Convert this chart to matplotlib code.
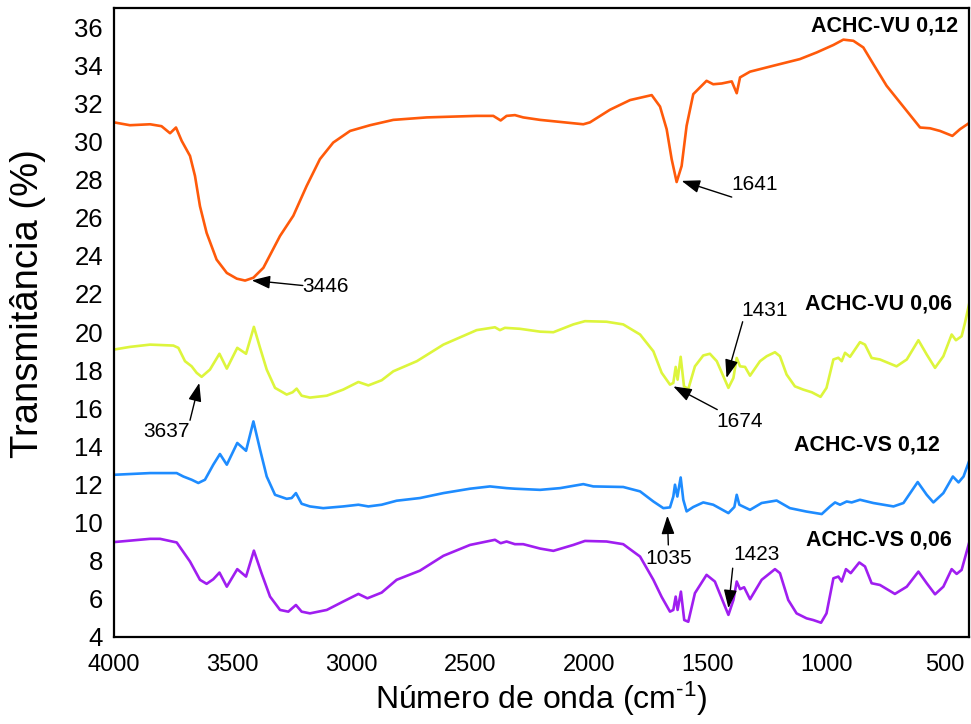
import matplotlib
matplotlib.use("Agg")
import matplotlib.pyplot as plt
from matplotlib import font_manager

# ---------------- data ----------------
ACHC_VU_012 = [(4000, 31.0), (3933, 30.85), (3848, 30.9), (3800, 30.8), (3764, 30.43), (3739, 30.73),
               (3715, 30.03), (3680, 29.24), (3659, 28.19), (3638, 26.6), (3610, 25.2), (3568, 23.8),
               (3525, 23.1), (3483, 22.8), (3448, 22.7), (3413, 22.85), (3371, 23.37), (3301, 25.04),
               (3245, 26.1), (3189, 27.66), (3133, 29.07), (3077, 29.94), (3006, 30.55), (2922, 30.85),
               (2824, 31.13), (2683, 31.26), (2473, 31.34), (2403, 31.34), (2372, 31.1), (2347, 31.34),
               (2312, 31.38), (2277, 31.26), (2206, 31.13), (2024, 30.9), (1996, 31.0), (1912, 31.66),
               (1827, 32.17), (1736, 32.43), (1701, 31.83), (1673, 30.64), (1652, 29.07), (1631, 27.87),
               (1610, 28.71), (1589, 30.82), (1561, 32.48), (1505, 33.18), (1477, 33.0), (1441, 33.04),
               (1399, 33.15), (1378, 32.53), (1364, 33.36), (1322, 33.66), (1224, 33.97), (1112, 34.32),
               (1041, 34.67), (971, 35.06), (929, 35.34), (887, 35.28), (845, 34.93), (803, 34.06),
               (747, 32.92), (662, 31.6), (606, 30.73), (564, 30.69), (522, 30.55), (470, 30.29),
               (438, 30.64), (400, 30.96)]

ACHC_VU_006 = [(4000, 19.08), (3933, 19.22), (3848, 19.34), (3750, 19.29), (3729, 19.17), (3701, 18.47),
               (3673, 18.2), (3652, 17.86), (3631, 17.65), (3596, 18.03), (3556, 18.86), (3525, 18.08),
               (3481, 19.17), (3444, 18.86), (3411, 20.27), (3385, 19.17), (3357, 18.03), (3322, 17.07),
               (3273, 16.72), (3248, 16.84), (3231, 17.03), (3210, 16.66), (3175, 16.56), (3104, 16.66),
               (3035, 16.98), (2971, 17.38), (2929, 17.2), (2873, 17.47), (2824, 17.94), (2725, 18.47),
               (2613, 19.34), (2473, 20.1), (2396, 20.25), (2375, 20.1), (2354, 20.22), (2291, 20.17),
               (2206, 20.02), (2150, 19.99), (2066, 20.4), (2017, 20.57), (1926, 20.54), (1856, 20.4),
               (1785, 19.87), (1729, 18.99), (1694, 17.86), (1659, 17.24), (1645, 17.33), (1635, 18.17),
               (1627, 17.5), (1614, 18.7), (1600, 17.15), (1582, 17.01), (1554, 18.2), (1519, 18.77),
               (1491, 18.86), (1462, 18.47), (1413, 17.07), (1392, 17.59), (1378, 18.64), (1364, 18.2),
               (1343, 18.17), (1322, 17.71), (1280, 18.47), (1252, 18.73), (1217, 18.94), (1196, 18.73),
               (1168, 17.77), (1133, 17.15), (1098, 16.98), (1062, 16.84), (1025, 16.6), (1000, 17.07),
               (971, 18.56), (950, 18.65), (936, 18.47), (922, 18.91), (901, 18.7), (859, 19.47),
               (838, 19.34), (810, 18.64), (775, 18.56), (705, 18.2), (662, 18.56), (613, 19.57),
               (578, 18.82), (543, 18.12), (508, 18.73), (473, 19.87), (455, 19.57), (431, 19.78),
               (417, 20.48), (400, 21.45)]

ACHC_VS_012 = [(4000, 12.51), (3848, 12.6), (3736, 12.6), (3708, 12.42), (3673, 12.25), (3645, 12.08),
               (3617, 12.25), (3582, 13.04), (3554, 13.6), (3525, 13.04), (3481, 14.18), (3444, 13.77),
               (3413, 15.31), (3385, 13.83), (3357, 12.42), (3322, 11.46), (3273, 11.25), (3252, 11.29),
               (3234, 11.55), (3210, 10.99), (3175, 10.85), (3119, 10.76), (3035, 10.85), (2971, 10.94),
               (2929, 10.85), (2873, 10.94), (2810, 11.15), (2712, 11.29), (2613, 11.55), (2501, 11.78),
               (2417, 11.9), (2347, 11.81), (2312, 11.78), (2206, 11.72), (2122, 11.81), (2024, 12.02),
               (1982, 11.9), (1856, 11.87), (1785, 11.64), (1729, 11.11), (1687, 10.76), (1659, 10.8),
               (1645, 11.37), (1638, 11.99), (1628, 11.37), (1614, 12.37), (1603, 11.2), (1589, 10.59),
               (1561, 10.82), (1519, 11.06), (1477, 10.94), (1413, 10.5), (1388, 10.82), (1378, 11.46),
               (1367, 10.94), (1322, 10.67), (1273, 11.03), (1210, 11.16), (1154, 10.76), (1084, 10.58),
               (1020, 10.45), (985, 10.85), (964, 11.06), (943, 10.94), (915, 11.11), (894, 11.06),
               (859, 11.2), (803, 11.03), (718, 10.85), (676, 11.03), (616, 12.13), (578, 11.46),
               (550, 11.06), (508, 11.55), (468, 12.42), (444, 12.11), (423, 12.42), (400, 13.21)]

ACHC_VS_006 = [(4000, 8.98), (3848, 9.15), (3806, 9.15), (3736, 8.96), (3680, 7.96), (3638, 7.0),
               (3610, 6.79), (3582, 7.03), (3556, 7.38), (3525, 6.64), (3481, 7.56), (3444, 7.17),
               (3411, 8.53), (3379, 7.35), (3343, 6.12), (3301, 5.42), (3266, 5.33), (3234, 5.68),
               (3210, 5.33), (3175, 5.24), (3104, 5.42), (3035, 5.86), (2971, 6.26), (2933, 6.03),
               (2873, 6.33), (2810, 7.0), (2712, 7.48), (2613, 8.26), (2501, 8.83), (2396, 9.1),
               (2372, 8.92), (2347, 9.01), (2312, 8.87), (2277, 8.87), (2206, 8.64), (2150, 8.52),
               (2066, 8.83), (2017, 9.04), (1926, 9.01), (1856, 8.87), (1785, 8.22), (1729, 7.0),
               (1694, 6.1), (1659, 5.33), (1645, 5.42), (1635, 6.12), (1627, 5.42), (1613, 6.38),
               (1599, 4.89), (1582, 4.8), (1554, 6.3), (1505, 7.26), (1470, 6.91), (1413, 5.16),
               (1392, 5.94), (1378, 6.91), (1364, 6.51), (1347, 6.61), (1322, 5.98), (1273, 7.0),
               (1217, 7.56), (1196, 7.35), (1161, 5.94), (1126, 5.24), (1084, 4.98), (1056, 4.89),
               (1023, 4.75), (1000, 5.24), (971, 7.08), (950, 7.17), (936, 6.91), (918, 7.56),
               (898, 7.35), (862, 7.91), (838, 7.7), (810, 6.82), (775, 6.73), (712, 6.26),
               (662, 6.64), (613, 7.43), (578, 6.82), (543, 6.24), (508, 6.64), (473, 7.56),
               (452, 7.31), (431, 7.52), (400, 8.92)]

series_names = ["ACHC-VU 0,12", "ACHC-VU 0,06", "ACHC-VS 0,12", "ACHC-VS 0,06"]
series_data = [ACHC_VU_012, ACHC_VU_006, ACHC_VS_012, ACHC_VS_006]
series_colors = ["#FF5A0A", "#DDF53C", "#1E8CFF", "#A01EF0"]
# label anchor (right edge) for each series name
label_pos = [(446, 36.05), (472, 21.45), (522, 14.09), (472, 9.1)]

# peak annotations: text, text centre, arrow tail, arrow tip
peak_labels = ["3446", "1641", "3637", "1674", "1431", "1035", "1423"]
peak_text_xy = [(3109, 22.4), (1301, 27.72), (3778, 14.79), (1364, 15.28), (1259, 21.15), (1663, 8.13), (1295, 8.31)]
peak_tail_xy = [(3205, 22.44), (1399, 27.08), (3680, 15.37), (1460, 15.93), (1353, 20.54), (1666, 8.83), (1395, 7.61)]
peak_tip_xy = [(3420, 22.71), (1610, 27.93), (3641, 17.33), (1645, 17.15), (1421, 17.59), (1670, 10.36), (1413, 5.51)]

x_ticks = [4000, 3500, 3000, 2500, 2000, 1500, 1000, 500]
y_ticks = list(range(4, 37, 2))

# ---------------- fonts ----------------
available = {f.name for f in font_manager.fontManager.ttflist}
narrow = "Liberation Sans Narrow" if "Liberation Sans Narrow" in available else "Liberation Sans"
base = "Liberation Sans"
plt.rcParams["mathtext.fontset"] = "custom"
plt.rcParams["mathtext.rm"] = base
plt.rcParams["mathtext.it"] = base
plt.rcParams["mathtext.default"] = "regular"

fig = plt.figure(figsize=(9.71, 7.24), dpi=100)
ax = fig.add_axes([114 / 971, 1 - 637 / 724, (969 - 114) / 971, (637 - 8) / 724])

for data, col in zip(series_data, series_colors):
    xs = [p[0] for p in data]
    ys = [p[1] for p in data]
    ax.plot(xs, ys, color=col, lw=1.9, solid_joinstyle="round")

for name, (lx, ly) in zip(series_names, label_pos):
    ax.text(lx, ly, name, ha="right", va="center", fontsize=15.5, fontweight="bold", family=base)

for lab, txy, tail, tip in zip(peak_labels, peak_text_xy, peak_tail_xy, peak_tip_xy):
    ax.annotate("", xy=tip, xytext=tail,
                arrowprops=dict(arrowstyle="-|>,head_length=0.7,head_width=0.25",
                                color="black", lw=1.0, mutation_scale=16, shrinkA=0, shrinkB=0))
    ax.text(txy[0], txy[1], lab, ha="center", va="center", fontsize=15, family=base)

ax.set_xlim(4000, 400)
ax.set_ylim(4, 37)
ax.set_xticks(x_ticks)
ax.set_yticks(y_ticks)
ax.set_xticklabels([str(t) for t in x_ticks], family=narrow, fontsize=17)
ax.set_yticklabels([str(t) for t in y_ticks], family=base, fontsize=18.5)
ax.tick_params(length=0, pad=8)
ax.tick_params(axis="x", pad=12)

for sp in ax.spines.values():
    sp.set_linewidth(1.6)
    sp.set_color("black")

ax.set_xlabel(r"Número de onda (cm$^{\text{-1}}$)", family=narrow, fontsize=23)
ax.xaxis.set_label_coords(0.5, -0.068)
ax.set_ylabel("Transmitância (%)", family=base, fontsize=27.5)
ax.yaxis.set_label_coords(-0.079, 0.53)

fig.savefig("out.png", dpi=100)
